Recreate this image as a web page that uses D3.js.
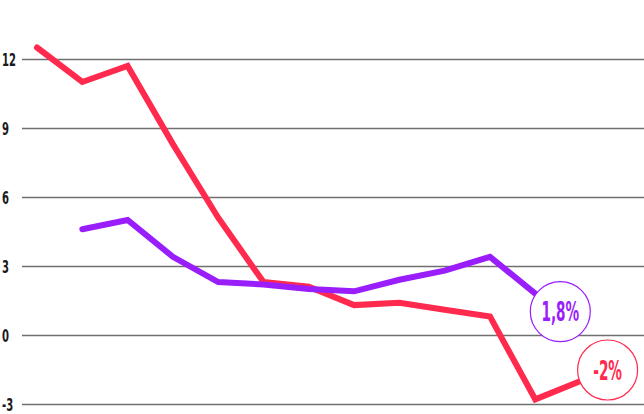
<!DOCTYPE html>
<html><head><meta charset="utf-8">
<script src="https://cdn.jsdelivr.net/npm/d3@7"></script>
<style>
html,body{margin:0;padding:0;background:#fff;}
svg{display:block;}
.cond{font-family:"DejaVu Sans Condensed","DejaVu Sans",sans-serif;font-weight:bold;}
</style></head>
<body>
<svg id="chart" width="644" height="414"></svg>
<script>
const periods = [0,1,2,3,4,5,6,7,8,9,10,11,12];
const redValues = [12.5, 11.0, 11.7, 8.3, 5.1, 2.3, 2.1, 1.3, 1.4, 1.1, 0.8, -2.8, -2.0];
const purpleValues = [null, 4.6, 5.0, 3.4, 2.3, 2.2, 2.0, 1.9, 2.4, 2.8, 3.4, 1.8, null];
const yTicks = [-3, 0, 3, 6, 9, 12];
const labels = [
  {text: "1,8%", series: "purple", index: 11, value: 1.8},
  {text: "-2%", series: "red", index: 12, value: -2.0}
];
const colors = {red: "#ff2a4d", purple: "#9a1dfc"};

const svg = d3.select("#chart");
const W = 644, H = 414;
const x = d3.scaleLinear().domain([0, 12]).range([37, 580.6]);
const y = d3.scaleLinear().domain([-3, 12]).range([404, 59]);

// grid
const yAxis = d3.axisLeft(y).tickValues(yTicks).tickSize(-(W - 22)).tickFormat(d => String(d));
const g = svg.append("g").attr("transform", "translate(22,0)").call(yAxis);
g.select(".domain").remove();
g.selectAll(".tick line").attr("stroke", "#6f6f6f").attr("stroke-width", 1.6);
g.selectAll(".tick text")
  .attr("class", "cond")
  .attr("x", 0)
  .attr("dy", "0.36em")
  .attr("text-anchor", "start")
  .attr("font-size", 18)
  .attr("font-weight", "bold")
  .attr("fill", "#1a1a1a")
  .attr("transform", "translate(-20,0) scale(0.62,1)");

const line = d3.line()
  .defined(d => d.v !== null)
  .x(d => x(d.i)).y(d => y(d.v));

function draw(vals, color) {
  svg.append("path")
    .datum(periods.map((i, k) => ({i, v: vals[k]})))
    .attr("d", line)
    .attr("fill", "none")
    .attr("stroke", color)
    .attr("stroke-width", 6)
    .attr("stroke-linejoin", "miter")
    .attr("stroke-linecap", "round");
}
draw(redValues, colors.red);
draw(purpleValues, colors.purple);

// value labels
const offsets = {purple: [25, 18], red: [27, -11]};
labels.forEach(l => {
  const cx = x(l.index) + offsets[l.series][0];
  const cy = y(l.value) + offsets[l.series][1];
  svg.append("circle").attr("cx", cx).attr("cy", cy).attr("r", 30)
    .attr("fill", "#fff").attr("stroke", colors[l.series]).attr("stroke-width", 1.2);
  svg.append("text").attr("class", "cond")
    .attr("transform", `translate(${cx},${cy}) scale(0.56,1)`)
    .attr("text-anchor", "middle").attr("dy", "0.36em")
    .attr("font-size", 27).attr("font-weight", "bold")
    .attr("fill", colors[l.series]).text(l.text);
});
</script>
</body></html>
